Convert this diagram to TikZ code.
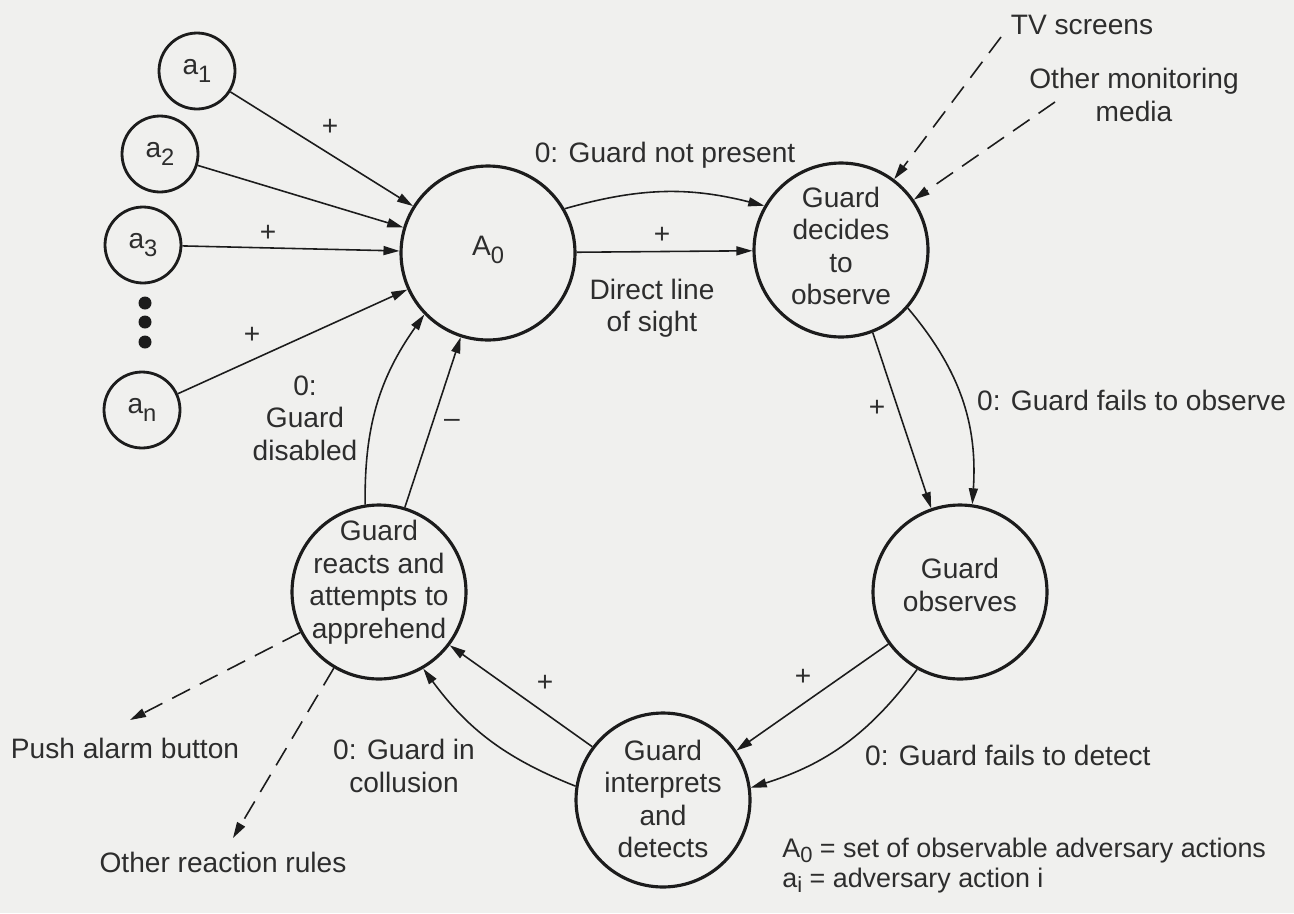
\documentclass[tikz,border=0pt]{standalone}
\usepackage{fontspec}
\setmainfont{Liberation Sans}
\usetikzlibrary{arrows.meta}
\definecolor{paper}{RGB}{240,240,238}
\definecolor{ink}{RGB}{28,28,28}
\definecolor{txt}{RGB}{45,45,45}
% lowered, slightly smaller index digit/letter
\newcommand\lowsub[1]{\raisebox{-0.55ex}{\fontsize{13.5}{13.5}\selectfont #1}}
\newcommand\legsub[1]{\raisebox{-0.4ex}{\fontsize{12.5}{12.5}\selectfont #1}}

\begin{document}
\begin{tikzpicture}[x=0.02cm,y=-0.02cm,
  font=\fontsize{16}{18.5}\selectfont, text=txt,
  state/.style={circle,draw=ink,line width=1.8pt,minimum size=3.48cm,inner sep=0pt},
  act/.style={circle,draw=ink,line width=1.6pt,minimum size=1.52cm,inner sep=0pt},
  lbl/.style={align=center,inner sep=1pt},
  flow/.style={draw=ink,line width=0.9pt,-{Triangle[length=3.2mm,width=1.8mm]}},
  aux/.style={flow,dash pattern=on 4mm off 2.2mm},
  sign/.style={inner sep=0pt},
  legend/.style={inner sep=0pt,anchor=base west,font=\fontsize{15.3}{17}\selectfont}]

\fill[paper] (0,0) rectangle (1294,913);

% adversary actions
\node[act] (a1) at (197,71) {a\lowsub{1}};
\node[act] (a2) at (160,154) {a\lowsub{2}};
\node[act] (a3) at (143,245) {a\lowsub{3}};
\node[act] (an) at (142,410) {a\lowsub{n}};
\foreach \y in {303,322,342} \fill[ink] (145,\y) circle (6.5);

% guard states
\node[state] (A0) at (488,253) {};
\node[state] (GD) at (841,250) {};
\node[state] (GO) at (960,592) {};
\node[state] (GI) at (663,800) {};
\node[state] (GR) at (379,592) {};

\node[lbl] (A0t) at (488,250) {A\lowsub{0}};
\node[lbl] (GDt) at (841,246) {Guard\\decides\\to\\observe};
\node[lbl] (GOt) at (960,585) {Guard\\observes};
\node[lbl] (GIt) at (663,799) {Guard\\interprets\\and\\detects};
\node[lbl] (GRt) at (379,582) {Guard\\reacts and\\attempts to\\apprehend};

% actions feeding A0
\draw[flow] (a1) -- (A0);
\draw[flow] (a2) -- (A0);
\draw[flow] (a3) -- (A0);
\draw[flow] (an) -- (A0);
\node[sign] at (330,127) {+};
\node[sign] at (268,233) {+};
\node[sign] at (252,335) {+};

% A0 -> guard decides
\draw[flow] (A0.30) to[bend left=15] (GD.150);
\draw[flow] (A0) -- (GD);
\node[lbl] at (665,155) {0: Guard not present};
\node[sign] at (662,235) {+};
\node[lbl] at (652,308) {Direct line\\of sight};

% monitoring inputs
\node[lbl] (tv) at (1082,25) {TV screens};
\node[lbl] (om) at (1134,95) {Other monitoring\\media};
\coordinate (tvs) at (1001,37);
\coordinate (oms) at (1055,102);
\draw[aux] (tvs) -- (GD);
\draw[aux] (oms) -- (GD);

% guard decides -> guard observes
\draw[flow] (GD.-69) -- (GO.109);
\draw[flow] (GD.-41) to[bend left=22] (GO.82);
\node[sign] at (877,408) {+};
\node[lbl,anchor=west] at (975,400) {0: Guard fails to observe};

% guard observes -> guard interprets
\draw[flow] (GO.216) -- (GI.34);
\draw[flow] (GO.241) to[bend left=18] (GI.8);
\node[sign] at (803,677) {+};
\node[lbl,anchor=west] at (863,755) {0: Guard fails to detect};

% guard interprets -> guard reacts
\draw[flow] (GI.143) -- (GR.-37);
\draw[flow] (GI.171) to[bend left=16] (GR.-60);
\node[sign] at (545,683) {+};
\node[lbl] at (404,766) {0: Guard in\\collusion};

% guard reacts -> A0
\draw[flow] (GR.99) to[bend left=18] (A0.224);
\draw[flow] (GR.73) -- (A0.252);
\node[sign] at (452,423) {–};
\node[lbl] at (305,418) {0:\\Guard\\disabled};

% reaction outputs
\node[lbl] (pab) at (125,748) {Push alarm button};
\node[lbl] (orr) at (223,862) {Other reaction rules};
\coordinate (pabt) at (130,720);
\coordinate (orrt) at (233,838);
\draw[aux] (GR) -- (pabt);
\draw[aux] (GR) -- (orrt);

% legend
\node[legend] (leg1) at (782,857) {A\legsub{0} = set of observable adversary actions};
\node[legend] (leg2) at (782,887) {a\legsub{i} = adversary action i};
\end{tikzpicture}
\end{document}
